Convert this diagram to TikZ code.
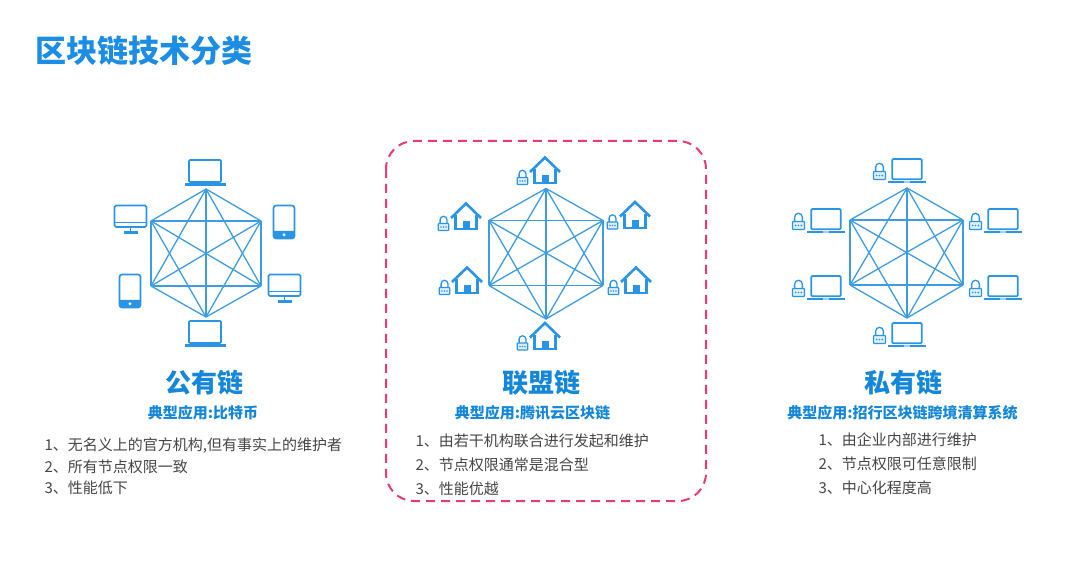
\documentclass[tikz,border=0pt]{standalone}
\usepackage{fontspec}
\setmainfont{Noto Sans CJK SC}
\definecolor{titleblue}{HTML}{1B8DE4}
\definecolor{headblue}{HTML}{1587DA}
\definecolor{iconblue}{HTML}{2A94E6}
\definecolor{lineblue}{HTML}{3E9CE2}
\definecolor{bodygrey}{HTML}{454545}
\definecolor{dashpink}{HTML}{EA3B6E}
\tikzset{
  titletext/.style={anchor=west,text=titleblue,font=\fontsize{31}{31}\selectfont\bfseries},
  headtext/.style={text=headblue,font=\fontsize{26}{26}\selectfont\bfseries},
  subtext/.style={text=headblue,font=\fontsize{15}{15}\selectfont\bfseries},
  bodytext/.style={anchor=west,text=bodygrey,font=\fontsize{15}{15}\selectfont},
  pics/laptopicon/.style={code={
    \draw[iconblue,line width=1.7,rounded corners=1] (-16,-13) rectangle (16,9);
    \fill[iconblue] (-20.5,10.5) rectangle (20.5,13);
  }},
  pics/desktopicon/.style={code={
    \draw[iconblue,line width=1.7,rounded corners=1.5] (-16,-14.5) rectangle (16,7);
    \draw[iconblue,line width=1.3] (-16,2.5) -- (16,2.5);
    \draw[iconblue,line width=1.3] (0,7) -- (0,12);
    \fill[iconblue] (-7,11.5) rectangle (7,14);
  }},
  pics/phoneicon/.style={code={
    \draw[iconblue,line width=1.7,rounded corners=2.5] (-10.5,-16.5) rectangle (10.5,16.5);
    \fill[iconblue] (-10.5,9) -- (10.5,9) [rounded corners=2.5] -- (10.5,16.5) -- (-10.5,16.5) [sharp corners] -- cycle;
    \fill[white] (0,12.8) circle (1.7);
  }},
  pics/houseicon/.style={code={
    \draw[iconblue,line width=2.6] (-15,1.5) -- (0,-13) -- (15,1.5);
    \draw[iconblue,line width=2.4] (-10.5,-1) -- (-10.5,12.8) -- (10.5,12.8) -- (10.5,-1);
    \fill[iconblue] (-3.5,5) rectangle (3.5,13);
  }},
  pics/lockicon/.style={code={
    \draw[iconblue,line width=1.3] (-3.4,0) -- (-3.4,-3.8) arc[start angle=180,end angle=360,radius=3.4] -- (3.4,0);
    \draw[iconblue,line width=1.2,fill=iconblue!15,rounded corners=.6] (-5.2,0) rectangle (5.2,7);
    \foreach \dx in {-2.5,0,2.5} \fill[iconblue] (\dx,3.5) circle (.8);
  }},
  pics/lockedhouse/.style={code={
    \pic at (0,0) {houseicon};
    \pic at (-22.5,7) {lockicon};
  }},
  pics/lockedlaptop/.style={code={
    \pic[scale=.92] at (0,0) {laptopicon};
    \fill[iconblue!45] (-3,10) rectangle (3,11.9);
    \pic[scale=1.14] at (-27.5,.5) {lockicon};
  }}
}
% six corners, every corner joined to every other one
\newcommand{\hexnet}[6]{
  \coordinate (#1a) at (#2,#3);
  \coordinate (#1b) at (#5,#3+32);
  \coordinate (#1c) at (#5,#3+97);
  \coordinate (#1d) at (#2,#6);
  \coordinate (#1e) at (#4,#3+97);
  \coordinate (#1f) at (#4,#3+32);
  \foreach \from/\others in {a/{b,c,d,e,f},b/{c,d,e,f},c/{d,e,f},d/{e,f},e/{f}}
    \foreach \to in \others
      \draw[lineblue,line width=1.3] (#1\from) -- (#1\to);
}

\begin{document}
\begin{tikzpicture}[x=1pt,y=-1pt]
  \useasboundingbox (0,0) rectangle (1080,561);

  \node[titletext] (title) at (32,51) {区块链技术分类};

  \hexnet{pub}{206}{189}{151}{261}{317}
  \hexnet{con}{546}{188.5}{489}{603}{319}
  \hexnet{pri}{907}{188}{850}{963}{318}

  % public chain
  \pic at (205,173) {laptopicon};
  \pic at (205,334) {laptopicon};
  \pic at (130.5,220) {desktopicon};
  \pic at (284.5,289) {desktopicon};
  \pic at (284,222) {phoneicon};
  \pic at (130,291) {phoneicon};

  % consortium chain
  \pic at (545,170.5) {lockedhouse};
  \pic at (466,216.5) {lockedhouse};
  \pic at (635,215) {lockedhouse};
  \pic at (467,280.5) {lockedhouse};
  \pic at (636,280.5) {lockedhouse};
  \pic at (545,336) {lockedhouse};

  % private chain
  \pic at (907,171) {lockedlaptop};
  \pic at (826,221) {lockedlaptop};
  \pic at (1003,221) {lockedlaptop};
  \pic at (826,288) {lockedlaptop};
  \pic at (1003,288) {lockedlaptop};
  \pic at (907,335) {lockedlaptop};

  \draw[dashpink,line width=2,dash pattern=on 9 off 6,rounded corners=28] (386,141) rectangle (706,501);

  \node[headtext] (pubhead) at (204,383) {公有链};
  \node[headtext] (conhead) at (541.5,383) {联盟链};
  \node[headtext] (prihead) at (903.5,383) {私有链};

  \node[subtext] (pubsub) at (203,413) {典型应用:比特币};
  \node[subtext] (consub) at (532.5,413) {典型应用:腾讯云区块链};
  \node[subtext] (prisub) at (902.5,413) {典型应用:招行区块链跨境清算系统};

  \node[bodytext] (pubone) at (41,446) {1、无名义上的官方机构,但有事实上的维护者};
  \node[bodytext] (pubtwo) at (41,467) {2、所有节点权限一致};
  \node[bodytext] (pubthree) at (41,488) {3、性能低下};

  \node[bodytext] (conone) at (412,441) {1、由若干机构联合进行发起和维护};
  \node[bodytext] (contwo) at (412,465) {2、节点权限通常是混合型};
  \node[bodytext] (conthree) at (412,489) {3、性能优越};

  \node[bodytext] (prione) at (815,440) {1、由企业内部进行维护};
  \node[bodytext] (pritwo) at (815,464) {2、节点权限可任意限制};
  \node[bodytext] (prithree) at (815,488) {3、中心化程度高};
\end{tikzpicture}
\end{document}
